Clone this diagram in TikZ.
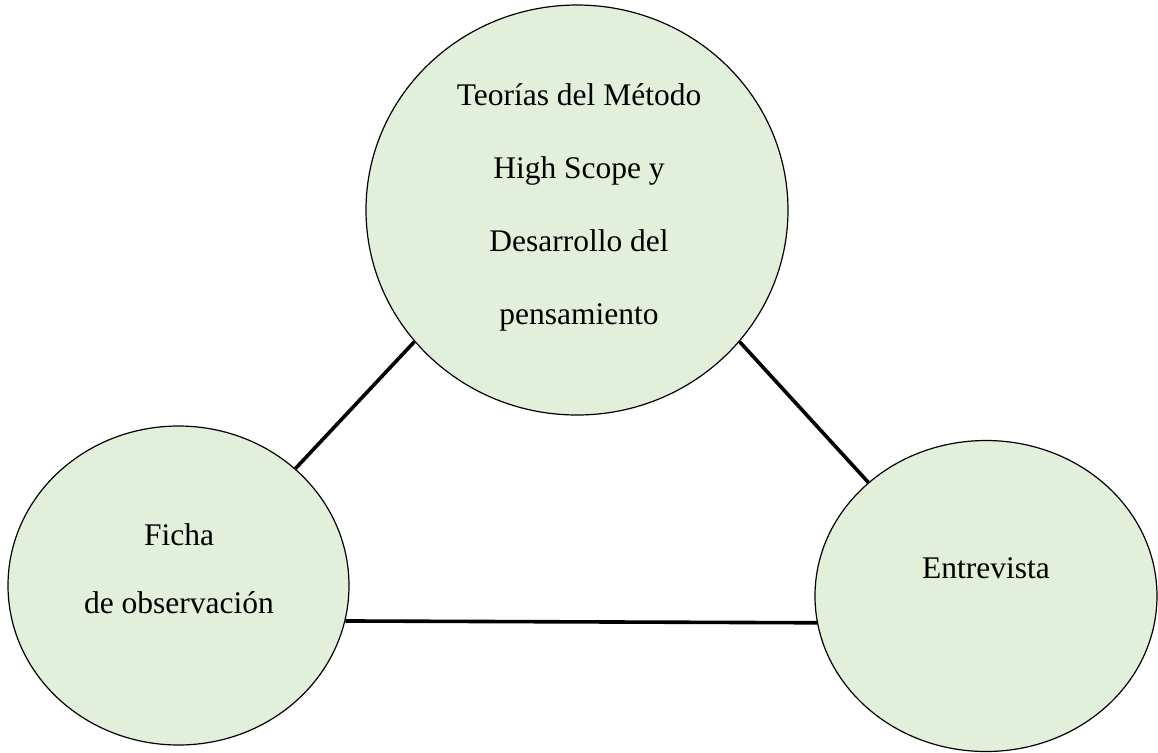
\documentclass[tikz,border=0pt]{standalone}
\usepackage{fontspec}
\setmainfont{Liberation Serif}
\usetikzlibrary{shapes.geometric}
\definecolor{verdeclaro}{RGB}{226,239,218}
\begin{document}
\begin{tikzpicture}[x=0.5pt,y=-0.5pt,
  bubble/.style={ellipse,draw=black,line width=0.6pt,fill=verdeclaro,inner sep=0pt},
  lazo/.style={line width=1.8pt,black},
  txt/.style={align=center,inner sep=0pt}]
	\useasboundingbox (0,0) rectangle (1158,752);
	\node[bubble,minimum width=211pt,minimum height=205pt] (teo) at (577,210) {};
	\node[bubble,minimum width=170.5pt,minimum height=159.5pt] (ficha) at (178.5,585.5) {};
	\node[bubble,minimum width=171pt,minimum height=155.5pt] (entre) at (986,596) {};
	\draw[lazo] (teo.219)--(ficha.45) (teo.321)--(entre.136);
	\draw[lazo] (ficha.348)--(entre.189);
	% anchor=base sits on the last line
	\node[txt,font=\fontsize{15.75}{36.5}\selectfont,anchor=base] (teo-t) at (579,324)
	  {Teorías del Método\\High Scope y\\Desarrollo del\\pensamiento};
	\node[txt,font=\fontsize{15.75}{34}\selectfont,anchor=base] (ficha-t) at (179,613)
	  {Ficha\\de observación};
	\node[txt,font=\fontsize{15.75}{34}\selectfont,anchor=base] (entre-t) at (986,578) {Entrevista};
      \end{tikzpicture}
\end{document}
